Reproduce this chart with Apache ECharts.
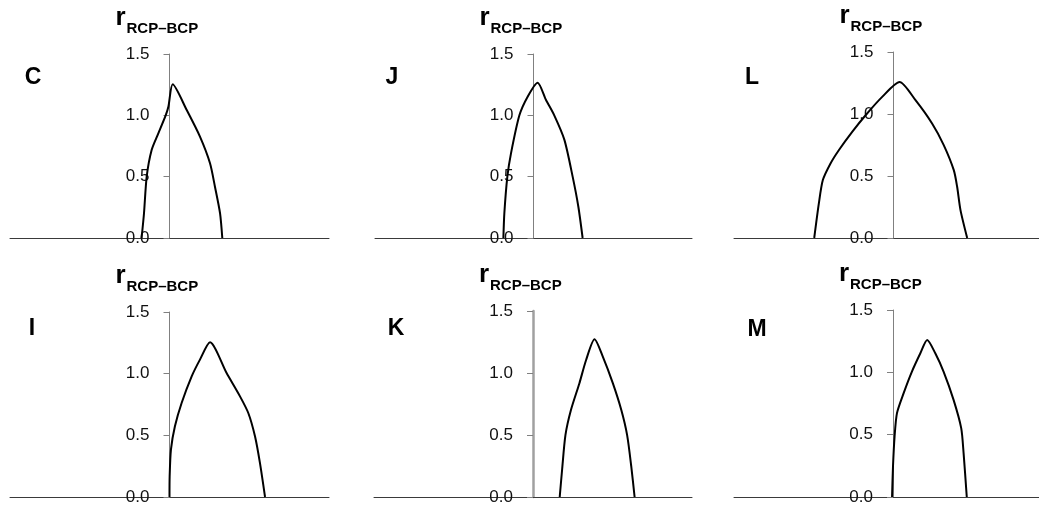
<!DOCTYPE html>
<html>
<head>
<meta charset="utf-8">
<script src="https://cdn.jsdelivr.net/npm/echarts@6/dist/echarts.min.js"></script>
<style>
  html, body { margin: 0; padding: 0; background: #fff; }
  #main { width: 1039px; height: 505px; }
</style>
</head>
<body>
<div id="main"></div>
<script>
// panel letters, in grid order (top row then bottom row)
const panelNames = ['C', 'J', 'L', 'I', 'K', 'M'];
const yTicks = [0, 0.5, 1.0, 1.5];

// curves (x is unitless, y axis at x = 0)
const cX = [-0.175, -0.160, -0.143, -0.112, -0.070, -0.024, -0.007, 0.020, 0.108, 0.191, 0.254, 0.285, 0.317, 0.331];
const cY = [0, 0.20, 0.50, 0.717, 0.853, 1.00, 1.07, 1.253, 1.043, 0.826, 0.609, 0.418, 0.201, 0];

const jX = [-0.190, -0.184, -0.165, -0.142, -0.089, -0.037, 0.026, 0.079, 0.131, 0.195, 0.247, 0.283, 0.310];
const jY = [0, 0.20, 0.50, 0.69, 1.00, 1.152, 1.266, 1.125, 1.00, 0.80, 0.50, 0.255, 0];

const lX = [-0.497, -0.468, -0.443, -0.395, -0.343, -0.259, -0.175, -0.071, 0.038, 0.138, 0.242, 0.315, 0.378, 0.399, 0.420, 0.462];
const lY = [0, 0.279, 0.467, 0.601, 0.708, 0.856, 0.99, 1.138, 1.258, 1.111, 0.923, 0.749, 0.547, 0.413, 0.225, 0];

const iX = [0, 0.001, 0.009, 0.034, 0.076, 0.139, 0.191, 0.254, 0.358, 0.442, 0.494, 0.536, 0.567, 0.599];
const iY = [0, 0.168, 0.384, 0.573, 0.762, 0.978, 1.114, 1.254, 1.005, 0.816, 0.681, 0.492, 0.276, 0];

const kX = [0.168, 0.183, 0.204, 0.239, 0.292, 0.334, 0.387, 0.439, 0.502, 0.555, 0.592, 0.618, 0.639];
const kY = [0, 0.22, 0.499, 0.703, 0.918, 1.105, 1.272, 1.132, 0.918, 0.703, 0.499, 0.247, 0];

const mX = [-0.006, 0, 0.010, 0.025, 0.067, 0.119, 0.172, 0.215, 0.266, 0.318, 0.381, 0.429, 0.444, 0.464];
const mY = [0, 0.246, 0.486, 0.673, 0.833, 1.006, 1.153, 1.26, 1.153, 1.006, 0.779, 0.552, 0.352, 0];

const curves = [[cX, cY], [jX, jY], [lX, lY], [iX, iY], [kX, kY], [mX, mY]];

// layout of the six plot boxes
const boxes = [
  { left: 10, top: 54, width: 319, height: 184 },
  { left: 375, top: 54, width: 317, height: 184 },
  { left: 734, top: 52, width: 319, height: 186 },
  { left: 10, top: 312, width: 319, height: 185 },
  { left: 374, top: 311, width: 318, height: 186 },
  { left: 734, top: 310, width: 318, height: 187 }
];
const letterPos = [[33, 78], [392, 78], [752, 78], [32, 329], [396, 329], [757, 330]];

const chart = echarts.init(document.getElementById('main'));

const grid = [], xAxis = [], yAxis = [], series = [], graphic = [];
boxes.forEach((b, i) => {
  grid.push({
    left: b.left, top: b.top, width: b.width, height: b.height,
    containLabel: false, outerBoundsMode: 'none'
  });
  xAxis.push({
    type: 'value', gridIndex: i, min: -1, max: 1,
    axisLine: { show: true, onZero: false, lineStyle: { color: '#3a3a3a', width: 1 } },
    axisTick: { show: false }, axisLabel: { show: false }, splitLine: { show: false }
  });
  // y axis sits in the middle of the box (x = 0)
  yAxis.push({
    type: 'value', gridIndex: i, position: 'left', offset: -b.width / 2,
    min: yTicks[0], max: yTicks[yTicks.length - 1], interval: 0.5,
    axisLine: { show: true, onZero: false, lineStyle: { color: i === 4 ? '#a0a0a0' : '#808080', width: i === 4 ? 2.5 : 1 } },
    axisTick: { show: true, length: 6, lineStyle: { color: '#808080' } },
    axisLabel: {
      margin: 20, fontSize: 17, color: '#111', fontFamily: 'Liberation Sans',
      formatter: v => v.toFixed(1)
    },
    splitLine: { show: false }
  });
  const [xs, ys] = curves[i];
  series.push({
    type: 'line', xAxisIndex: i, yAxisIndex: i,
    data: xs.map((x, k) => [x, ys[k]]),
    showSymbol: false, smooth: 0.25,
    lineStyle: { color: '#000', width: 2 },
    animation: false
  });

  // y axis title: r with subscript RCP–BCP
  const axisX = b.left + b.width / 2;
  graphic.push({
    type: 'text', x: axisX - 54, y: b.top - 36,
    style: { text: 'r', font: 'bold 26px "Liberation Sans"', fill: '#000', align: 'left', verticalAlign: 'middle' }
  });
  graphic.push({
    type: 'text', x: axisX - 43, y: b.top - 25,
    style: { text: 'RCP–BCP', font: 'bold 15px "Liberation Sans"', fill: '#000', align: 'left', verticalAlign: 'middle' }
  });
  graphic.push({
    type: 'text', x: letterPos[i][0], y: letterPos[i][1],
    style: { text: panelNames[i], font: 'bold 23px "Liberation Sans"', fill: '#000', align: 'center', verticalAlign: 'middle' }
  });
});

chart.setOption({
  animation: false,
  grid: grid,
  xAxis: xAxis,
  yAxis: yAxis,
  series: series,
  graphic: graphic
});
</script>
</body>
</html>
